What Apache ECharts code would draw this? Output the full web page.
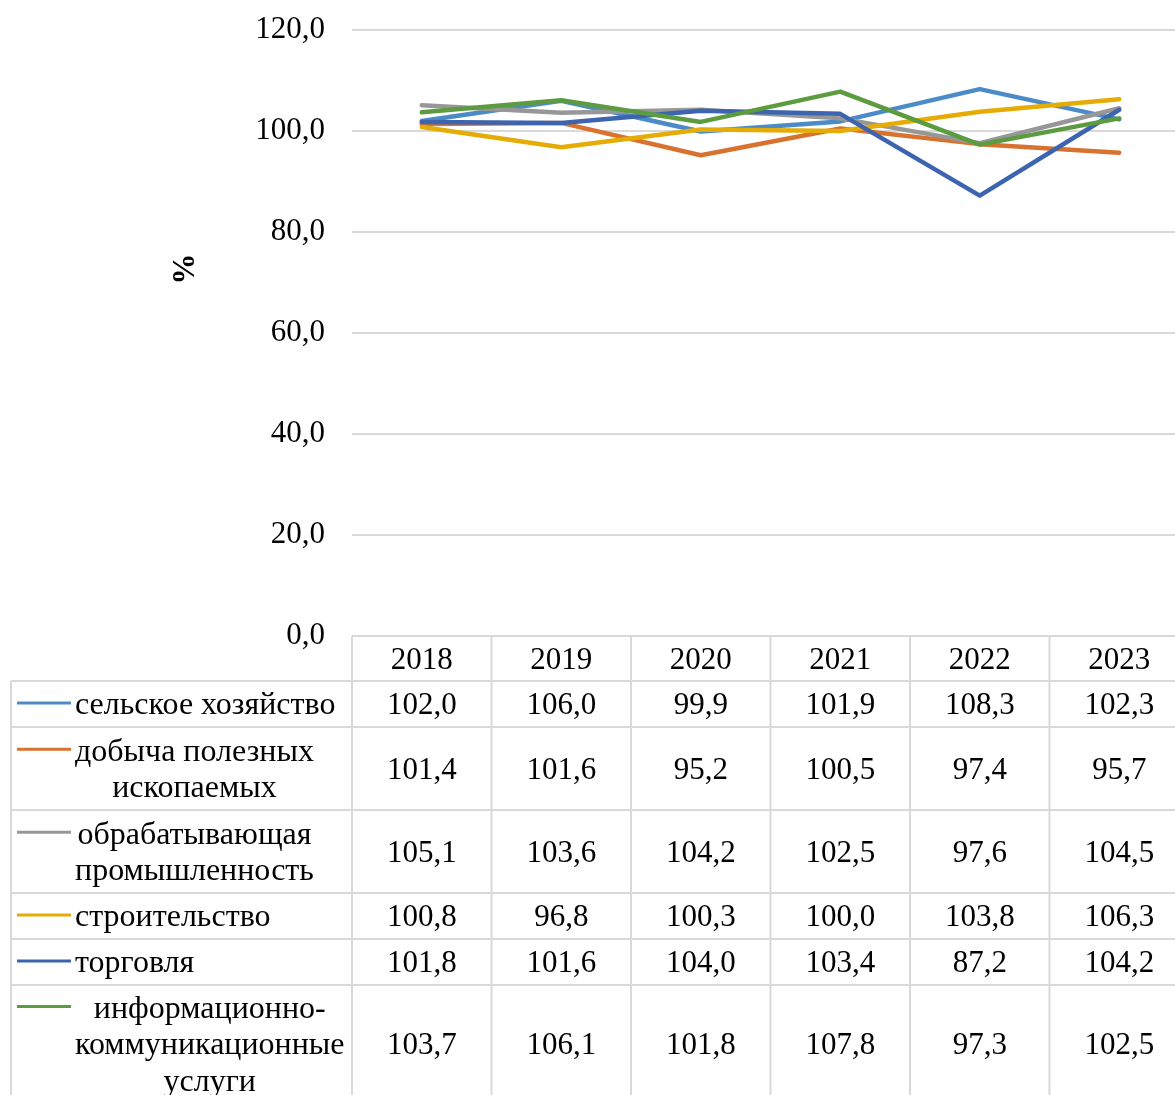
<!DOCTYPE html>
<html>
<head>
<meta charset="utf-8">
<script src="https://cdn.jsdelivr.net/npm/echarts@6/dist/echarts.min.js"></script>
<style>
  html, body { margin: 0; padding: 0; background: #fff; overflow: hidden; }
  #chart { width: 1175px; height: 1095px; }
</style>
</head>
<body>
<div id="chart"></div>
<script>
// Years on the category axis
const years = ['2018', '2019', '2020', '2021', '2022', '2023'];

// Index values by sector, %
const agriculture   = [102.0, 106.0, 99.9, 101.9, 108.3, 102.3];
const mining        = [101.4, 101.6, 95.2, 100.5, 97.4, 95.7];
const manufacturing = [105.1, 103.6, 104.2, 102.5, 97.6, 104.5];
const construction  = [100.8, 96.8, 100.3, 100.0, 103.8, 106.3];
const trade         = [101.8, 101.6, 104.0, 103.4, 87.2, 104.2];
const ict           = [103.7, 106.1, 101.8, 107.8, 97.3, 102.5];

// Sector names (line breaks as shown in the data table)
const sectorNames = [
  'сельское хозяйство',
  'добыча полезных\nископаемых',
  'обрабатывающая\nпромышленность',
  'строительство',
  'торговля',
  'информационно-\nкоммуникационные\nуслуги'
];
const sectorValues = [agriculture, mining, manufacturing, construction, trade, ict];

// Y axis range
const yMin = 0, yMax = 120, yStep = 20;
const yAxisTitle = '%';

// Styling
const colors = ['#4b8bc8', '#d8722e', '#979797', '#e6ac06', '#3d64ae', '#5c9b40'];
const FONT = '"Liberation Serif", "Times New Roman", serif';
const FS_AXIS = 31;
const FS_NUM = 31;
const FS_NAME = 32;
const BORDER = '#d9d9d9';

// Table geometry: row boundaries below the header row
const headerTop = 636;
const rowEdges = [681, 727, 810, 893, 939, 985, 1103];
const tableLeft = 11;
const legendTextLeft = 75;
const lineH = 36.5;

const fmt = v => v.toFixed(1).replace('.', ',');

const chart = echarts.init(document.getElementById('chart'), null, { renderer: 'canvas' });

chart.setOption({
  animation: false,
  backgroundColor: '#fff',
  grid: {
    left: 352, width: 837, top: 30, height: headerTop - 30,
    containLabel: false, outerBoundsMode: 'none'
  },
  xAxis: {
    type: 'category',
    data: years,
    boundaryGap: true,
    axisLine: { show: false },
    axisTick: { show: false },
    axisLabel: { fontFamily: FONT, fontSize: FS_NUM, color: '#000', margin: 10, lineHeight: 30 }
  },
  yAxis: {
    type: 'value',
    min: yMin, max: yMax, interval: yStep,
    axisLine: { show: false },
    axisTick: { show: false },
    axisLabel: { fontFamily: FONT, fontSize: FS_AXIS, color: '#000', margin: 27, formatter: v => fmt(v) },
    splitLine: { lineStyle: { color: BORDER, width: 2 } }
  },
  series: sectorValues.map((vals, i) => ({
    name: sectorNames[i],
    type: 'line',
    data: vals,
    symbol: 'none',
    smooth: false,
    lineStyle: { color: colors[i], width: 4.5, cap: 'round', join: 'round' },
    itemStyle: { color: colors[i] }
  }))
});

// Build the data table underneath the plot
const centers = years.map((_, i) => chart.convertToPixel({ xAxisIndex: 0 }, i));
const colW = centers.length > 1 ? centers[1] - centers[0] : 140;
const colEdges = centers.map(c => c - colW / 2).concat([centers[centers.length - 1] + colW / 2]);
const plotLeft = colEdges[0];
const bottomY = 1095;

const measure = document.createElement('canvas').getContext('2d');
measure.font = FS_NAME + 'px ' + FONT;

const graphics = [];
const line = (x1, y1, x2, y2) => graphics.push({
  type: 'line', silent: true,
  shape: { x1, y1, x2, y2 },
  style: { stroke: BORDER, lineWidth: 2 }
});

// Horizontal borders
line(plotLeft, headerTop, 1175, headerTop);
rowEdges.slice(0, -1).forEach(y => line(tableLeft, y, 1175, y));
// Vertical borders
line(tableLeft, rowEdges[0], tableLeft, bottomY);
colEdges.forEach(x => line(x, headerTop, x, bottomY));

// Rows: legend key, sector name, values
sectorNames.forEach((name, r) => {
  const top = rowEdges[r], bot = rowEdges[r + 1];
  const cy = (top + bot) / 2 + 2;
  const lines = name.split('\n');
  const firstLineY = cy - (lines.length - 1) * lineH / 2;
  graphics.push({
    type: 'line', silent: true,
    shape: { x1: 17, y1: firstLineY - 3, x2: 71, y2: firstLineY - 3 },
    style: { stroke: colors[r], lineWidth: 3 }
  });
  const maxW = Math.max(...lines.map(l => measure.measureText(l).width));
  graphics.push({
    type: 'text', silent: true,
    x: lines.length > 1 ? legendTextLeft + maxW / 2 : legendTextLeft,
    y: cy,
    style: {
      text: name,
      font: FS_NAME + 'px ' + FONT,
      fill: '#000',
      align: lines.length > 1 ? 'center' : 'left',
      verticalAlign: 'middle',
      lineHeight: lineH
    }
  });
  sectorValues[r].forEach((v, c) => {
    graphics.push({
      type: 'text', silent: true,
      x: centers[c], y: cy,
      style: { text: fmt(v), font: FS_NUM + 'px ' + FONT, fill: '#000', align: 'center', verticalAlign: 'middle' }
    });
  });
});

// Y axis title
graphics.push({
  type: 'text', silent: true,
  x: 186, y: 269,
  rotation: Math.PI / 2,
  style: { text: yAxisTitle, font: 'bold ' + FS_AXIS + 'px ' + FONT, fill: '#000', align: 'center', verticalAlign: 'middle' }
});

chart.setOption({ graphic: graphics });
</script>
</body>
</html>
